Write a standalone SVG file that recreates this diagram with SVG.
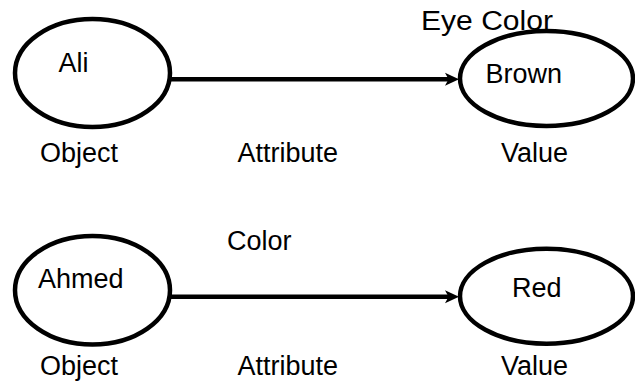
<svg xmlns="http://www.w3.org/2000/svg" width="635" height="383" viewBox="0 0 635 383">
  <style>
    .node { fill: #ffffff; stroke: #000000; stroke-width: 4.5; }
    .edge { stroke: #000000; stroke-width: 4.5; fill: none; }
    .head { fill: #000000; stroke: none; }
    text { font-family: "Liberation Sans", Arial, sans-serif; font-size: 27px; fill: #000000; }
  </style>
  <g id="connectors">
    <line class="edge" x1="170" y1="79.3" x2="450" y2="79.3"/>
    <path class="head" d="M459,79.3 L445,72.8 L448.5,79.3 L445,85.8 Z"/>
    <line class="edge" x1="170" y1="296.7" x2="450" y2="296.7"/>
    <path class="head" d="M459,296.7 L445,290.2 L448.5,296.7 L445,303.2 Z"/>
  </g>
  <g id="node-ali">
    <ellipse class="node" cx="92.5" cy="73" rx="77.5" ry="54"/>
    <text x="58.5" y="71.7">Ali</text>
  </g>
  <g id="node-brown">
    <ellipse class="node" cx="546.5" cy="78.5" rx="86.5" ry="47.5"/>
    <text x="485.5" y="83.3">Brown</text>
  </g>
  <g id="node-ahmed">
    <ellipse class="node" cx="92.5" cy="290.3" rx="77.5" ry="54.3"/>
    <text x="38" y="288.3">Ahmed</text>
  </g>
  <g id="node-red">
    <ellipse class="node" cx="546.5" cy="296.2" rx="86.5" ry="47.5"/>
    <text x="512" y="296.7">Red</text>
  </g>
  <g id="labels">
    <text x="421" y="30" textLength="132" lengthAdjust="spacingAndGlyphs">Eye Color</text>
    <text x="40" y="162">Object</text>
    <text x="237.5" y="162">Attribute</text>
    <text x="501" y="162">Value</text>
    <text x="227" y="250">Color</text>
    <text x="40" y="375">Object</text>
    <text x="237.5" y="375">Attribute</text>
    <text x="501" y="375">Value</text>
  </g>
</svg>
